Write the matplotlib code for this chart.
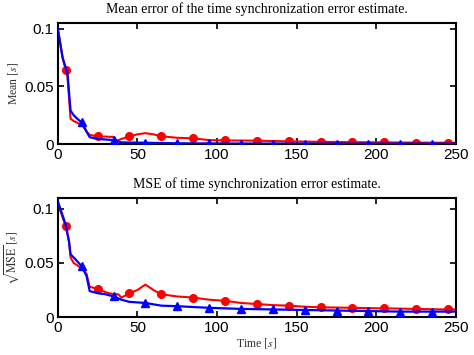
import matplotlib.pyplot as plt

plt.rcParams["mathtext.fontset"] = "stix"

# Mean error of the estimate (top panel)
t_mean_red = [0, 3, 5, 6, 8, 10, 13, 15, 18, 20, 25, 30, 35, 37, 40, 45, 50, 55, 60, 65,
              75, 85, 95, 105, 125, 145, 165, 185, 205, 225, 245, 250]
mean_red = [0.100, 0.075, 0.064, 0.060, 0.022, 0.020, 0.018, 0.017, 0.011, 0.008, 0.0068, 0.0065,
            0.0062, 0.003, 0.0045, 0.0068, 0.0085, 0.0095, 0.0085, 0.0068,
            0.0055, 0.0050, 0.0035, 0.0032, 0.0030, 0.0024, 0.0020, 0.0017, 0.0015, 0.0013, 0.0012, 0.0012]
t_mean_blue = [0, 3, 5, 6, 8, 10, 13, 15, 18, 20, 25, 30, 35, 40, 55, 75, 95, 115, 135, 155,
               175, 195, 215, 235, 250]
mean_blue = [0.100, 0.075, 0.066, 0.062, 0.029, 0.025, 0.021, 0.019, 0.011, 0.006, 0.0045, 0.004,
             0.0035, 0.0015, 0.0012, 0.0007, 0.0006, 0.0005, 0.0005, 0.0005,
             0.0005, 0.0005, 0.0005, 0.0005, 0.0005]

# Root MSE of the estimate (bottom panel)
t_mse_red = [0, 3, 5, 7, 8, 10, 15, 18, 20, 25, 30, 35, 38, 40, 45, 50, 55, 60, 65, 75, 85, 95,
             105, 115, 125, 135, 145, 155, 165, 185, 205, 225, 245, 250]
mse_red = [0.105, 0.092, 0.084, 0.070, 0.055, 0.050, 0.045, 0.040, 0.028, 0.026, 0.023, 0.021,
           0.021, 0.018, 0.022, 0.025, 0.030, 0.025, 0.021, 0.019, 0.018, 0.016,
           0.015, 0.013, 0.012, 0.011, 0.0105, 0.0095, 0.009, 0.0085, 0.008, 0.0075, 0.007, 0.007]
t_mse_blue = [0, 3, 5, 7, 8, 10, 15, 18, 20, 25, 30, 35, 40, 45, 55, 65, 75, 95, 115, 135, 155,
              175, 195, 215, 235, 250]
mse_blue = [0.107, 0.094, 0.085, 0.070, 0.058, 0.055, 0.047, 0.038, 0.024, 0.022, 0.021, 0.019,
            0.016, 0.014, 0.013, 0.0105, 0.010, 0.0085, 0.0075, 0.007, 0.0065,
            0.006, 0.0055, 0.005, 0.005, 0.005]

red_marks = [5, 25, 45, 65, 85, 105, 125, 145, 165, 185, 205, 225, 245]
blue_marks = [15, 35, 55, 75, 95, 115, 135, 155, 175, 195, 215, 235]

x_ticks = [0, 50, 100, 150, 200, 250]
y_ticks = [0, 0.05, 0.1]
y_tick_labels = ["0", "0.05", "0.1"]


def draw_panel(ax, t_r, y_r, t_b, y_b, ymax, title, ylabel):
    """Draw one panel with red circles and blue triangles."""
    red_idx = [t_r.index(m) for m in red_marks if m in t_r]
    blue_idx = [t_b.index(m) for m in blue_marks if m in t_b]
    ax.plot(t_r, y_r, "-", color="red", lw=1.5, marker="o", markersize=5.5,
            markevery=red_idx, zorder=2)
    ax.plot(t_b, y_b, "-", color="blue", lw=1.6, marker="^", markersize=6,
            markevery=blue_idx, zorder=3)
    ax.set_xlim(0, 250)
    ax.set_ylim(0, ymax)
    ax.set_xticks(x_ticks)
    ax.set_yticks(y_ticks)
    ax.set_yticklabels(y_tick_labels)
    ax.tick_params(direction="in", top=True, right=True, length=4, width=1.2,
                   labelsize=11, pad=3)
    for lab in ax.get_xticklabels() + ax.get_yticklabels():
        lab.set_family("Liberation Sans")
    for sp in ax.spines.values():
        sp.set_linewidth(1.5)
    ax.set_title(title, family="Liberation Serif", fontsize=10, pad=7)
    ax.set_ylabel(ylabel, family="Liberation Serif", fontsize=8.5, color="#333333", labelpad=2)


fig = plt.figure(figsize=(4.74, 3.55), dpi=100)
ax1 = fig.add_axes([0.122, 0.594, 0.840, 0.341])
ax2 = fig.add_axes([0.122, 0.107, 0.840, 0.335])

draw_panel(ax1, t_mean_red, mean_red, t_mean_blue, mean_blue, 0.105,
           "Mean error of the time synchronization error estimate.", r"Mean $[s]$")
draw_panel(ax2, t_mse_red, mse_red, t_mse_blue, mse_blue, 0.11,
           "MSE of time synchronization error estimate.", r"$\sqrt{\mathrm{MSE}}\ [s]$")
ax2.set_xlabel(r"Time $[s]$", family="Liberation Serif", fontsize=8.5, color="#333333", labelpad=1)

fig.savefig("out.png", dpi=100)
